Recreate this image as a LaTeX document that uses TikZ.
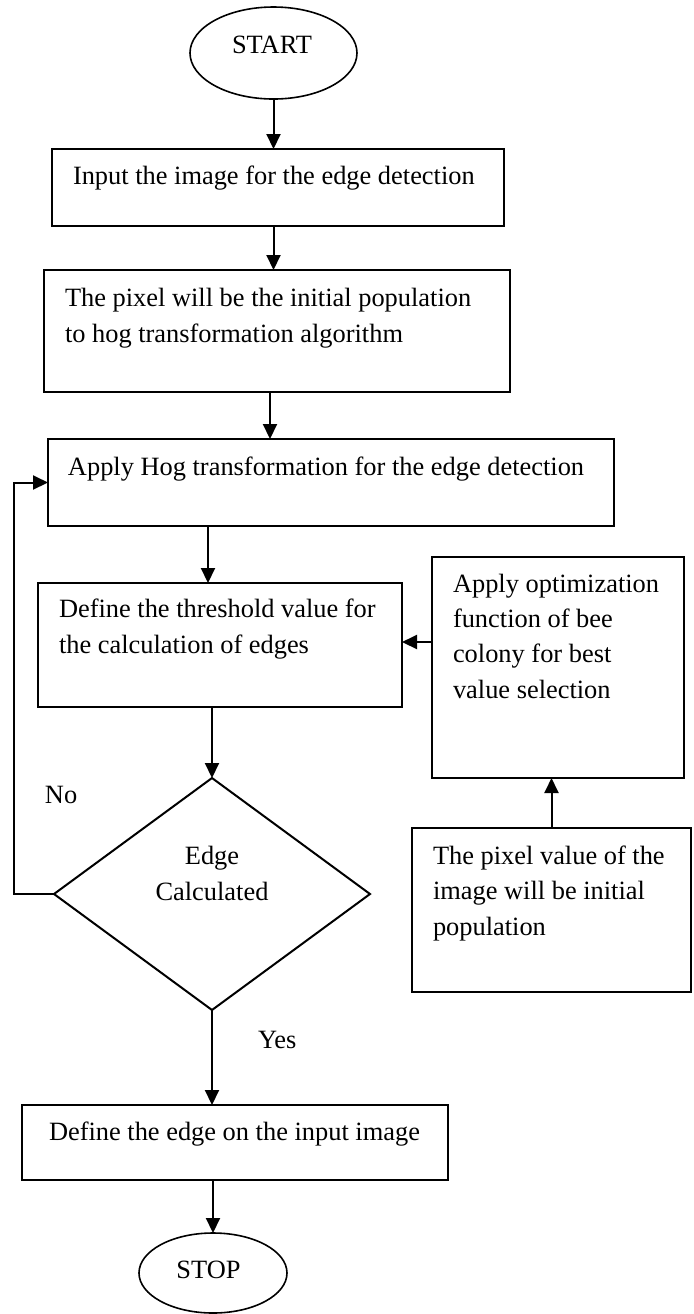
\documentclass[tikz,border=0pt]{standalone}
\usepackage{fontspec}
\setmainfont{Liberation Serif}
\usetikzlibrary{shapes.geometric,arrows.meta}
\newcommand\upx{0.5pt}
\begin{document}
\begin{tikzpicture}[x=0.5pt,y=-0.5pt,
  font=\fontsize{13.2pt}{17.6pt}\selectfont,
  box/.style={draw,line width=1pt,rectangle,inner sep=0pt,outer sep=0pt,anchor=north west},
  oval/.style={draw,line width=0.8pt,ellipse,inner sep=0pt,outer sep=0pt},
  txt/.style={inner sep=0pt,outer sep=0pt,anchor=base west,align=left},
  arr/.style={line width=1pt,-{Triangle[length=7.5pt,width=7pt]}},
  ln/.style={line width=1pt}]
\fill[white] (0,0) rectangle (694,1314);
\useasboundingbox (0,0) rectangle (694,1314);
% shapes
\node[oval,minimum width=167*\upx,minimum height=92*\upx] (start) at (273.5,53) {};
\node[inner sep=0pt,anchor=base] (starttxt) at (272,53) {START};
\node[box,minimum width=452*\upx,minimum height=77*\upx] (b1) at (52,149) {};
\node[txt] (t1) at (73,184) {Input the image for the edge detection};
\node[box,minimum width=466*\upx,minimum height=122*\upx] (b2) at (44,270) {};
\node[txt] (t2) at (65,342) {The pixel will be the initial population\\to hog transformation algorithm};
\node[box,minimum width=566*\upx,minimum height=87*\upx] (b3) at (48,439) {};
\node[txt] (t3) at (68,475) {Apply Hog transformation for the edge detection};
\node[box,minimum width=364*\upx,minimum height=124*\upx] (b4) at (38,583) {};
\node[txt] (t4) at (59,653) {Define the threshold value for\\the calculation of edges};
\node[box,minimum width=252*\upx,minimum height=221*\upx] (b5) at (432,557) {};
\node[txt] (t5) at (453,698) {Apply optimization\\function of bee\\colony for best\\value selection};
\node[box,minimum width=279*\upx,minimum height=164*\upx] (b6) at (412,828) {};
\node[txt] (t6) at (433,935) {The pixel value of the\\image will be initial\\population};
\node[draw,line width=1pt,diamond,inner sep=0pt,outer sep=0pt,minimum width=316*\upx,minimum height=232*\upx] (dia) at (212,894) {};
\node[inner sep=0pt,anchor=base,align=center] (t7) at (212,900) {Edge\\Calculated};
\node[txt] (no) at (45,803) {No};
\node[txt] (yes) at (258,1048) {Yes};
\node[box,minimum width=426*\upx,minimum height=75*\upx] (b7) at (22,1105) {};
\node[txt] (t8) at (49,1140) {Define the edge on the input image};
\node[oval,minimum width=148*\upx,minimum height=80*\upx] (stop) at (213,1273) {};
\node[inner sep=0pt,anchor=base] (stoptxt) at (208.5,1278) {STOP};
% helper coordinates
\coordinate (a3) at (270,0);
\coordinate (a4) at (208,0);
\coordinate (lx) at (14,0);
\coordinate (hy) at (0,642);
% connectors
\draw[arr] (start.south) -- (start.south |- b1.north);
\draw[arr] (b1.south -| start) -- (b2.north -| start);
\draw[arr] (b2.south -| a3) -- (b3.north -| a3);
\draw[arr] (b3.south -| a4) -- (b4.north -| a4);
\draw[arr] (b4.south -| dia.north) -- (dia.north);
\draw[arr] (dia.south) -- (dia.south |- b7.north);
\draw[arr] (b7.south -| stop.north) -- (stop.north);
\draw[arr] (dia.west) -- (dia.west -| lx) |- (b3.west);
\draw[arr] (b5.west |- hy) -- (b4.east |- hy);
\draw[arr] (b6.north) -- (b6.north |- b5.south);
\end{tikzpicture}
\end{document}
